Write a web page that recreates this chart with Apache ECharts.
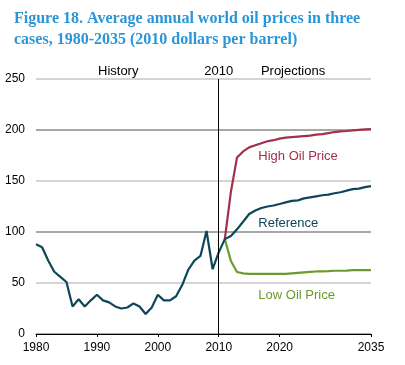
<!DOCTYPE html>
<html>
<head>
<meta charset="utf-8">
<script src="https://cdn.jsdelivr.net/npm/echarts@6/dist/echarts.min.js"></script>
<style>
html,body{margin:0;padding:0;background:#fff;}
#chart{width:405px;height:365px;}
</style>
</head>
<body>
<div id="chart"></div>
<script>
const titleText = "Figure 18. Average annual world oil prices in three\ncases, 1980-2035 (2010 dollars per barrel)";
const historyYears = [1980,1981,1982,1983,1984,1985,1986,1987,1988,1989,1990,1991,1992,1993,1994,1995,1996,1997,1998,1999,2000,2001,2002,2003,2004,2005,2006,2007,2008,2009,2010,2011];
const historyValues = [88,85,72,61,56,51,27,34,27,33,38.5,33,31,27,25,26,30,27,19.6,26,38.5,33,33,37,48,63,72,76.5,101,63.5,80,93];
const projYears = [2011,2012,2013,2014,2015,2016,2017,2018,2019,2020,2021,2022,2023,2024,2025,2026,2027,2028,2029,2030,2031,2032,2033,2034,2035];
const referenceValues = [93,96,102.6,110,117.6,121,123.5,125,126,127.5,129,130.5,131,133,134,135,136,136.6,138,139,140.5,142,142.5,144,145];
const highValues = [93,139.5,173,179,183,185,187,189,190,191.5,192.5,193,193.5,194,194.5,195.4,196,197,198,198.6,199,199.6,200.2,200.6,201];
const lowValues = [93,71.6,60.8,59.5,59,59,59,59,59,59,59,59.5,60,60.5,61,61.3,61.4,61.6,62,62,62.2,62.6,62.7,62.7,62.7];
const xLabelValues = [1980,1990,2000,2010,2020,2035];
const dividerYear = 2010;

const C_REF = '#0e4659', C_HIGH = '#a3304a', C_LOW = '#6a9c2c';
const pairs = (xs, ys) => xs.map((x, i) => [x, ys[i]]);

const chart = echarts.init(document.getElementById('chart'), null, {renderer: 'canvas'});
const lineStyleBase = {width: 2.2};
const option = {
  animation: false,
  title: {
    text: titleText, left: 9, top: 3,
    textStyle: {fontFamily: 'Liberation Serif', fontWeight: 'bold', fontSize: 16, color: '#2a96d8', lineHeight: 21}
  },
  grid: {left: 36, right: 34, top: 79, bottom: 31},
  xAxis: {
    type: 'value', min: 1980, max: 2035,
    axisLine: {lineStyle: {color: '#000', width: 1}},
    axisTick: {show: true, inside: false, length: 3, customValues: xLabelValues, lineStyle: {color: '#000'}},
    axisLabel: {customValues: xLabelValues, color: '#000', fontFamily: 'Liberation Sans', fontSize: 12, margin: 8, formatter: v => String(v)},
    splitLine: {show: false}
  },
  yAxis: {
    type: 'value', min: 0, max: 250, interval: 50,
    axisLine: {show: false}, axisTick: {show: false},
    axisLabel: {color: '#000', fontFamily: 'Liberation Sans', fontSize: 12, margin: 11},
    splitLine: {lineStyle: {color: ['#8a8a8a', '#c6c6c6'], width: 1.5}}
  },
  series: [
    {type: 'line', name: 'History', data: pairs(historyYears, historyValues), symbol: 'none',
     lineStyle: Object.assign({color: C_REF}, lineStyleBase), itemStyle: {color: C_REF}, z: 3,
     markLine: {silent: true, symbol: 'none', label: {show: false},
       lineStyle: {color: '#000', width: 1, type: 'solid'}, data: [{xAxis: dividerYear}]}},
    {type: 'line', name: 'High Oil Price', data: pairs(projYears, highValues), symbol: 'none',
     lineStyle: Object.assign({color: C_HIGH}, lineStyleBase), itemStyle: {color: C_HIGH}, z: 2},
    {type: 'line', name: 'Low Oil Price', data: pairs(projYears, lowValues), symbol: 'none',
     lineStyle: Object.assign({color: C_LOW}, lineStyleBase), itemStyle: {color: C_LOW}, z: 2},
    {type: 'line', name: 'Reference', data: pairs(projYears, referenceValues), symbol: 'none',
     lineStyle: Object.assign({color: C_REF}, lineStyleBase), itemStyle: {color: C_REF}, z: 3}
  ]
};
chart.setOption(option);

const notes = [
  {text: 'History', at: [1993.5, 257], align: 'center', color: '#000'},
  {text: '2010', at: [2010, 257], align: 'center', color: '#000'},
  {text: 'Projections', at: [2022.2, 257], align: 'center', color: '#000'},
  {text: 'High Oil Price', at: [2016.5, 174.5], align: 'left', color: C_HIGH},
  {text: 'Reference', at: [2016.5, 108.5], align: 'left', color: C_REF},
  {text: 'Low Oil Price', at: [2016.5, 38], align: 'left', color: C_LOW}
];
const graphics = notes.map(n => {
  const p = chart.convertToPixel({gridIndex: 0}, n.at);
  return {type: 'text', x: p[0], y: p[1],
    style: {text: n.text, fill: n.color, font: '13px "Liberation Sans"', textAlign: n.align, textVerticalAlign: 'middle'}};
});
chart.setOption({graphic: graphics});
</script>
</body>
</html>
